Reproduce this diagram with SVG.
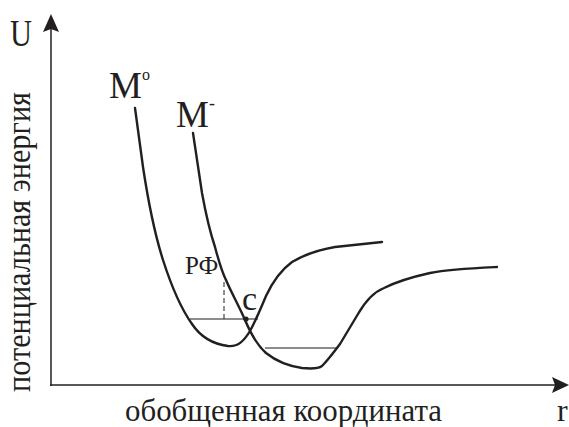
<svg xmlns="http://www.w3.org/2000/svg" width="569" height="427" viewBox="0 0 569 427">
<style>
.t{font-family:'Liberation Serif',serif;fill:#231f20}
.curve{fill:none;stroke:#231f20;stroke-width:2.4;stroke-linejoin:round;stroke-linecap:round}
.axis{fill:none;stroke:#231f20;stroke-width:1.5}
.level{stroke:#666;stroke-width:1.3}
</style>
<rect width="569" height="427" fill="#fff"/>
<g id="axes">
<line class="axis" x1="51" y1="386" x2="51" y2="28"/>
<path d="M51,14 L59,32 L51,29 L43,32 Z" fill="#231f20"/>
<line class="axis" x1="50" y1="385" x2="556" y2="385"/>
<path d="M569,385 L552,377 L555,385 L552,393 Z" fill="#231f20"/>
</g>
<g id="levels">
<line class="level" x1="190" y1="319" x2="258" y2="319"/>
<line class="level" x1="265" y1="348" x2="338" y2="348"/>
<line x1="224" y1="282" x2="224" y2="319" stroke="#231f20" stroke-width="1" stroke-dasharray="5,3"/>
</g>
<g id="curve-M0">
<path class="curve" d="M135,108 L143,167 C148,200 155,235 163,260 C172,288 182,310 192,324 C200,336 212,344 228,346 C238,347 244,341 250,331 C256,320 260,310 266,296 C273,281 281,270 292,262 C302,256 318,250 335,247 L382,242"/>
</g>
<g id="curve-Mminus">
<path class="curve" d="M193,133 L202,193 C206,215 210,232 215,247 C219,262 222,272 226,280 C231,292 240,308 245,320 C250,332 256,344 266,353 C276,361 288,366 302,368 C312,369 318,369 322,366 C328,360 334,352 340,344 C346,334 352,324 358,314 C366,300 374,292 384,288 C396,282 412,277 430,273 C450,269 475,268 497,267"/>
</g>
<g id="point-c">
<circle cx="246" cy="319" r="2.6" fill="#231f20"/>
<text class="t" x="242" y="310" font-size="34">c</text>
</g>
<g id="labels">
<text class="t" x="10" y="46" font-size="37" textLength="22" lengthAdjust="spacingAndGlyphs">U</text>
<text class="t" x="109" y="98" font-size="37">M<tspan font-size="16" dy="-18">o</tspan></text>
<text class="t" x="176" y="127" font-size="37">M<tspan font-size="18" dy="-18">-</tspan></text>
<text class="t" x="185" y="274" font-size="25">РФ</text>
<text class="t" transform="translate(30,392) rotate(-90)" font-size="34" textLength="300" lengthAdjust="spacingAndGlyphs">потенциальная энергия</text>
<text class="t" x="125" y="421" font-size="32" textLength="317" lengthAdjust="spacingAndGlyphs">обобщенная координата</text>
<text class="t" x="557" y="421" font-size="32">r</text>
</g>
</svg>
